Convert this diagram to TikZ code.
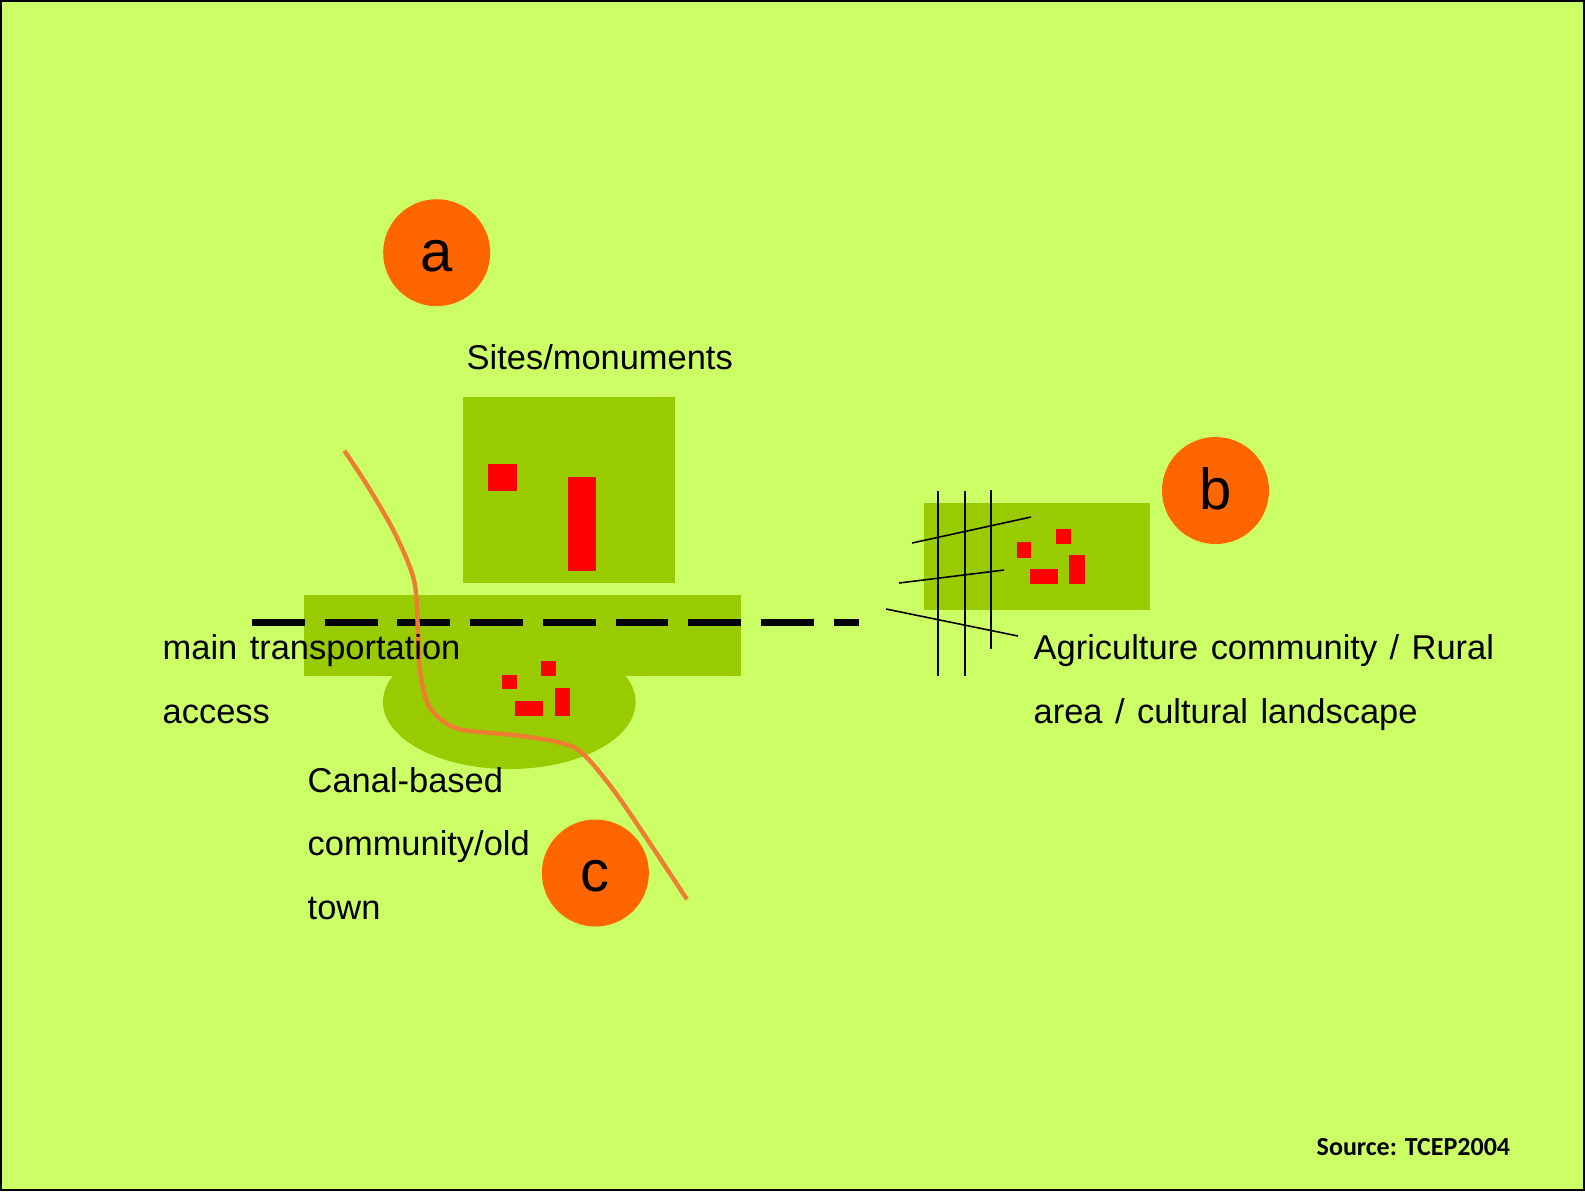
\documentclass[tikz,border=0pt]{standalone}
\usepackage{fontspec}
\setmainfont[WordSpace = 1.3]{Liberation Sans}
\newfontfamily\sourcefont{Carlito}
\definecolor{meadow}{HTML}{CCFF66}
\definecolor{patch}{HTML}{99CC00}
\definecolor{marker}{HTML}{FF6600}
\definecolor{canal}{HTML}{ED7D31}
\tikzset{
    patch/.style = {fill = patch},
    site/.style = {fill = red},
    field/.style = {black, line width = 0.45pt},
    marker/.style = {circle, fill = marker, minimum size = 1.07cm, inner sep = 0pt, text height = 0.37cm, text depth = 0cm, font = \fontsize{16.5}{20}\selectfont},
    caption/.style = {anchor = north west, align = left, inner sep = 0pt, font = \fontsize{9.8}{18.05}\selectfont}
}
\begin{document}
\begin{tikzpicture}
    \useasboundingbox (0, 0) rectangle (15.85, - 11.91);
    \draw[fill = meadow, line width = 0.5pt] (0.01, - 0.01) rectangle (15.84, - 11.90);

    % sites and monuments
    \fill[patch] (4.63, - 3.97) rectangle (6.75, - 5.83);
    \fill[site] (4.88, - 4.64) rectangle (5.17, - 4.91);
    \fill[site] (5.68, - 4.77) rectangle (5.96, - 5.71);

    % old town on the road
    \fill[patch] (5.093, - 7.02) ellipse (1.263 and 0.67);
    \fill[patch] (3.04, - 5.95) rectangle (7.41, - 6.76);
    \fill[site] (5.02, - 6.75) rectangle (5.17, - 6.89);
    \fill[site] (5.41, - 6.61) rectangle (5.56, - 6.76);
    \fill[site] (5.15, - 7.01) rectangle (5.43, - 7.16);
    \fill[site] (5.55, - 6.88) rectangle (5.70, - 7.16);

    % agriculture
    \fill[patch] (9.24, - 5.03) rectangle (11.50, - 6.10);
    \fill[site] (10.17, - 5.42) rectangle (10.31, - 5.58);
    \fill[site] (10.56, - 5.29) rectangle (10.71, - 5.44);
    \fill[site] (10.30, - 5.69) rectangle (10.58, - 5.84);
    \fill[site] (10.69, - 5.55) rectangle (10.85, - 5.84);
    \draw[field] (9.38, - 4.91) -- (9.38, - 6.76);
    \draw[field] (9.65, - 4.91) -- (9.65, - 6.76);
    \draw[field] (9.91, - 4.90) -- (9.91, - 6.49);
    \draw[field] (9.12, - 5.43) -- (10.31, - 5.17);
    \draw[field] (8.99, - 5.83) -- (10.04, - 5.70);
    \draw[field] (8.86, - 6.09) -- (10.18, - 6.36);

    % road and canal
    \draw[line width = 1.85pt, dash pattern = on 0.528cm off 0.199cm] (2.52, - 6.223) -- (8.59, - 6.223);
    \draw[canal, line width = 1.25pt] plot[smooth] coordinates {(3.444, - 4.507) (3.681, - 4.867) (3.949, - 5.333) (4.14, - 5.80) (4.179, - 6.30) (4.198, - 6.70) (4.294, - 7.067) (4.562, - 7.283) (5.136, - 7.35) (5.557, - 7.417) (5.825, - 7.533) (6.207, - 8.00) (6.869, - 8.993)};

    \node[marker] (markerA) at (4.367, - 2.527) {a};
    \node[marker] (markerB) at (12.155, - 4.905) {b};
    \node[marker] (markerC) at (5.954, - 8.73) {c};

    \node[caption] (sites) at (4.66, - 3.44) {Sites/monuments};
    \node[caption] (access) at (1.62, - 6.34) {main transportation \\ access};
    \node[caption] (town) at (3.07, - 7.665) {Canal-based \\ community/old \\ town};
    \node[caption] (rural) at (10.33, - 6.34) {Agriculture community / Rural \\ area / cultural landscape};
    \node[anchor = base west, inner sep = 0pt, font = \sourcefont\bfseries\fontsize{7.4}{9}\selectfont] (source) at (13.16, - 11.55) {Source: TCEP2004};
\end{tikzpicture}
\end{document}
